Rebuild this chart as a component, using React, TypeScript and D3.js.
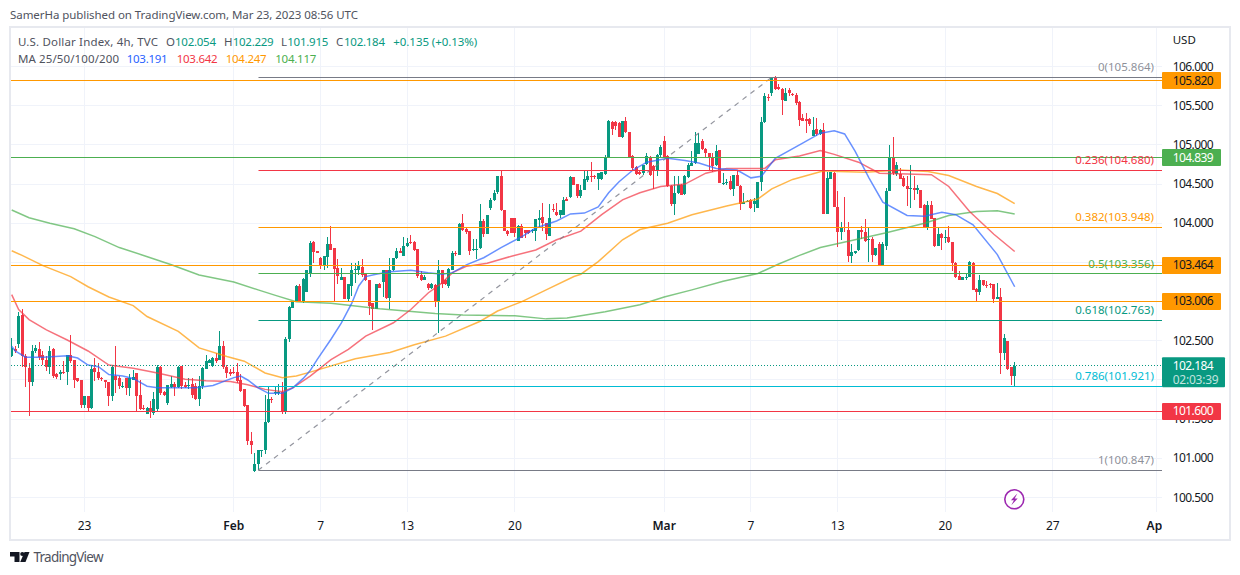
import React from "react";
import * as d3 from "d3";

const opens = [
102.30,102.40,102.46,102.83,102.31,102.15,101.97,102.37,102.39,102.32,
102.26,102.17,102.39,102.07,102.07,102.10,102.10,102.32,102.25,102.02,
102.00,101.68,101.80,101.64,102.15,102.10,102.03,102.00,101.97,101.79,
102.05,102.02,101.91,102.02,101.90,102.00,102.09,101.81,101.64,101.57,
101.64,101.58,101.63,102.16,101.85,101.71,101.91,101.95,101.91,102.18,
101.94,101.92,101.95,101.92,101.76,101.92,102.14,102.22,102.18,102.28,
102.26,102.44,102.17,102.10,102.10,102.10,102.00,101.89,101.68,101.22,
100.84,100.93,101.10,101.10,101.46,101.76,101.83,101.83,101.85,101.59,
102.52,102.92,103.00,103.20,103.00,103.12,103.37,103.76,103.65,103.56,
103.47,103.57,103.73,103.68,103.43,103.27,103.32,103.03,103.20,103.40,
103.41,103.44,103.37,103.27,102.98,102.90,103.23,103.25,103.41,103.05,
103.40,103.56,103.64,103.58,103.71,103.76,103.76,103.67,103.34,103.28,
103.23,103.17,103.21,103.00,103.40,103.28,103.20,103.41,103.62,103.60,
104.00,103.93,103.90,103.66,103.66,103.69,104.03,103.86,104.20,104.30,
104.40,104.60,104.17,103.90,104.07,104.07,103.77,103.97,103.91,103.91,
103.90,103.90,104.04,104.08,104.00,103.84,104.18,104.14,104.10,104.11,
104.31,104.33,104.59,104.50,104.35,104.42,104.55,104.61,104.61,104.56,
104.56,104.63,104.83,105.29,105.29,105.28,105.10,105.30,105.17,104.86,
104.72,104.66,104.64,104.76,104.85,104.73,104.67,104.87,105.05,104.86,
104.47,104.24,104.39,104.49,104.37,104.59,104.73,104.77,104.89,105.05,
104.95,104.90,104.83,104.74,104.93,104.50,104.52,104.54,104.44,104.62,
104.48,104.25,104.28,104.30,104.25,104.20,104.53,105.29,105.61,105.66,
105.87,105.74,105.71,105.56,105.70,105.65,105.64,105.55,105.34,105.33,
105.33,105.12,105.20,105.14,105.19,104.12,104.57,104.64,104.21,103.89,
103.95,103.91,103.58,103.62,103.66,103.92,103.89,103.79,103.80,103.59,
103.74,103.47,103.71,104.41,104.85,104.63,104.63,104.58,104.48,104.44,
104.45,104.42,104.42,104.23,103.95,104.23,104.07,103.71,103.86,103.81,
103.83,103.76,103.49,103.33,103.28,103.31,103.32,103.49,103.16,103.12,
103.27,103.21,103.22,103.22,103.04,103.06,102.34,102.50,102.16,102.05,
];

const highs = [
102.54,102.43,102.87,102.90,102.33,102.22,102.45,102.45,102.49,102.37,
102.31,102.44,102.41,102.09,102.13,102.24,102.32,102.57,102.25,102.03,
102.00,101.80,101.80,102.19,102.28,102.22,102.04,102.00,101.98,102.19,
102.44,102.05,101.98,102.03,102.07,102.13,102.09,102.00,101.68,101.66,
101.73,101.85,102.19,102.18,101.86,101.93,102.05,101.98,102.18,102.18,
101.97,102.03,102.02,101.96,102.05,102.17,102.32,102.27,102.29,102.35,
102.62,102.50,102.19,102.14,102.17,102.22,102.07,101.89,101.68,101.33,
101.07,101.11,101.11,101.81,101.92,101.78,101.92,101.95,101.97,102.55,
102.94,103.00,103.21,103.23,103.30,103.41,103.77,103.77,103.65,103.57,
103.58,103.83,103.97,103.68,103.54,103.43,103.32,103.22,103.49,103.49,
103.52,103.55,103.37,103.27,102.98,103.23,103.24,103.41,103.41,103.56,
103.56,103.69,103.69,103.83,103.81,103.85,103.77,103.67,103.39,103.34,
103.24,103.24,103.22,103.53,103.40,103.29,103.43,103.64,103.64,104.00,
104.12,103.94,103.90,103.80,103.80,104.24,104.05,104.11,104.32,104.43,
104.61,104.68,104.17,103.92,104.07,104.07,103.98,103.99,103.92,103.92,
103.93,104.06,104.17,104.26,104.01,104.25,104.24,104.26,104.17,104.34,
104.34,104.60,104.59,104.50,104.49,104.68,104.68,104.78,104.62,104.64,
104.65,104.87,105.32,105.30,105.30,105.29,105.30,105.36,105.17,104.87,
104.73,104.68,104.75,104.90,104.86,104.75,104.88,105.00,105.11,104.87,
104.49,104.60,104.60,104.50,104.62,104.77,104.92,105.17,105.15,105.07,
104.96,104.90,104.90,105.00,104.94,104.64,104.56,104.61,104.62,104.68,
104.49,104.39,104.30,104.31,104.32,104.53,105.36,105.66,105.65,105.87,
105.88,105.78,105.73,105.73,105.73,105.66,105.66,105.56,105.39,105.41,
105.34,105.36,105.34,105.20,105.28,104.65,104.66,104.65,104.41,104.02,
104.33,104.02,103.73,103.65,103.92,103.97,104.06,103.95,103.83,103.69,
103.76,103.76,104.45,105.00,105.10,104.78,104.71,104.60,104.61,104.75,
104.60,104.49,104.42,104.24,104.29,104.29,104.07,103.95,103.88,103.91,
103.97,103.76,103.50,103.39,103.31,103.37,103.52,103.50,103.17,103.34,
103.28,103.26,103.24,103.23,103.24,103.17,102.59,102.50,102.16,102.23,
];

const lows = [
102.29,102.34,102.41,102.17,101.91,101.54,101.92,102.34,102.26,102.19,
102.12,102.07,102.02,102.01,102.00,102.07,101.94,102.22,101.90,101.98,
101.64,101.64,101.61,101.63,101.99,102.00,101.99,101.90,101.67,101.73,
101.83,101.88,101.90,101.81,101.79,102.00,101.59,101.62,101.62,101.56,
101.51,101.55,101.60,101.81,101.80,101.68,101.90,101.79,101.90,101.88,
101.90,101.88,101.77,101.75,101.67,101.88,102.14,102.22,102.17,102.22,
102.25,102.14,102.02,102.05,102.07,101.96,101.85,101.66,101.17,101.05,
100.83,100.85,101.02,101.05,101.45,101.70,101.81,101.81,101.56,101.56,
102.49,102.92,103.00,103.00,102.98,103.12,103.32,103.49,103.62,103.42,
103.41,103.43,103.66,103.00,103.22,103.27,103.03,103.00,103.07,103.24,
103.34,103.32,103.26,102.83,102.64,102.90,103.18,103.06,103.03,102.91,
103.39,103.54,103.62,103.58,103.70,103.74,103.64,103.30,103.26,103.28,
103.15,103.16,102.93,102.60,103.17,103.21,103.17,103.40,103.58,103.60,
103.90,103.86,103.60,103.65,103.54,103.67,103.83,103.86,104.17,104.28,
104.38,104.16,103.90,103.84,103.87,103.83,103.77,103.81,103.81,103.86,
103.88,103.77,103.94,103.90,103.79,103.84,104.15,104.09,104.07,104.10,
104.28,104.32,104.49,104.32,104.32,104.42,104.53,104.53,104.56,104.43,
104.55,104.62,104.83,105.13,105.19,105.10,105.09,105.15,104.84,104.68,
104.62,104.62,104.62,104.75,104.61,104.44,104.60,104.85,104.83,104.46,
104.22,104.10,104.38,104.36,104.36,104.58,104.73,104.76,104.89,104.94,
104.83,104.68,104.66,104.73,104.51,104.49,104.49,104.43,104.35,104.47,
104.17,104.24,104.27,104.18,104.14,104.19,104.41,105.28,105.56,105.62,
105.70,105.70,105.38,105.56,105.63,105.63,105.51,105.24,105.30,105.15,
105.24,105.11,105.11,105.13,104.12,104.12,104.56,104.21,103.70,103.79,
103.89,103.50,103.49,103.61,103.65,103.80,103.76,103.51,103.51,103.58,
103.45,103.47,103.66,104.41,104.62,104.60,104.56,104.46,104.22,104.20,
104.30,104.37,104.20,103.95,103.91,104.05,103.70,103.71,103.66,103.75,
103.75,103.39,103.30,103.28,103.28,103.28,103.31,103.15,103.01,103.09,
103.20,103.17,103.17,102.98,103.04,102.07,102.26,102.13,101.94,101.92,
];

const closes = [
102.41,102.37,102.82,102.31,102.16,101.97,102.37,102.41,102.29,102.25,
102.17,102.37,102.05,102.04,102.10,102.09,102.32,102.24,102.00,101.99,
101.68,101.80,101.64,102.14,102.10,102.02,102.02,101.97,101.79,102.17,
102.00,101.92,101.92,101.90,102.02,102.04,101.79,101.63,101.63,101.64,
101.59,101.76,102.16,101.84,101.81,101.93,101.95,101.91,102.17,101.92,
101.91,101.94,101.81,101.76,101.92,102.15,102.24,102.25,102.28,102.24,
102.43,102.16,102.09,102.08,102.09,101.99,101.86,101.67,101.22,101.17,
100.93,101.10,101.11,101.46,101.76,101.75,101.85,101.85,101.59,102.52,
102.93,103.00,103.20,103.00,103.29,103.40,103.75,103.63,103.62,103.46,
103.58,103.73,103.66,103.42,103.33,103.32,103.03,103.22,103.41,103.42,
103.47,103.34,103.27,102.95,102.90,103.23,103.18,103.40,103.05,103.41,
103.56,103.64,103.62,103.71,103.75,103.75,103.66,103.33,103.28,103.31,
103.17,103.22,103.00,103.40,103.23,103.23,103.42,103.62,103.61,103.99,
103.91,103.89,103.65,103.67,103.67,104.03,103.86,104.10,104.30,104.39,
104.60,104.17,103.90,103.86,103.88,103.88,103.97,103.81,103.87,103.88,
103.92,104.05,104.07,104.00,103.86,104.07,104.17,104.11,104.17,104.30,
104.29,104.59,104.49,104.35,104.43,104.56,104.61,104.60,104.59,104.64,
104.65,104.84,105.30,105.20,105.24,105.10,105.30,105.16,104.84,104.70,
104.63,104.63,104.75,104.86,104.62,104.68,104.87,104.97,104.85,104.47,
104.24,104.39,104.49,104.36,104.61,104.75,104.77,105.02,105.02,104.95,
104.90,104.83,104.73,104.92,104.52,104.52,104.53,104.44,104.62,104.48,
104.24,104.27,104.29,104.19,104.29,104.53,105.29,105.62,105.60,105.87,
105.71,105.71,105.57,105.66,105.66,105.64,105.53,105.32,105.31,105.31,
105.27,105.19,105.14,105.19,104.12,104.58,104.65,104.21,103.89,103.95,
103.94,103.58,103.63,103.64,103.92,103.89,103.77,103.80,103.59,103.68,
103.47,103.74,104.41,104.85,104.64,104.75,104.57,104.47,104.44,104.45,
104.42,104.45,104.20,103.95,104.23,104.06,103.71,103.86,103.81,103.83,
103.76,103.49,103.32,103.28,103.31,103.32,103.50,103.15,103.12,103.27,
103.21,103.20,103.21,103.04,103.06,102.34,102.54,102.14,102.05,102.18,
];

// moving averages: bar number and value read at that bar
const ma25Bars = [0,1,4,9,16,19,22,25,28,32,35,39,42,49,53,58,64,66,68,71,74,78,81,84,86,88,92,95,98,100,102,105,109,115,120,124,127,131,136,141,147,151,157,161,165,169,172,175,179,183,189,194,198,203,209,213,216,220,227,233,237,240,243,247,251,258,263,268,272,277,284,289];
const ma25Vals = [102.43,102.37,102.29,102.29,102.31,102.28,102.19,102.17,102.07,102.05,102.02,101.92,101.90,101.90,101.90,101.93,102.03,102.05,102.00,101.90,101.83,101.83,101.90,102.02,102.12,102.26,102.52,102.73,102.98,103.20,103.32,103.35,103.38,103.40,103.37,103.35,103.37,103.47,103.56,103.69,103.83,103.94,104.03,104.12,104.13,104.21,104.39,104.53,104.68,104.78,104.83,104.80,104.77,104.70,104.68,104.58,104.60,104.83,105.00,105.15,105.18,105.14,104.92,104.58,104.27,104.10,104.09,104.14,104.11,103.98,103.60,103.19];
const ma50Bars = [0,2,5,10,16,22,28,35,42,50,56,63,68,73,78,81,86,92,97,102,110,115,120,124,127,131,137,144,151,157,164,170,176,181,187,194,200,206,212,217,220,227,233,237,244,250,258,265,270,276,283,289];
const ma50Vals = [103.09,102.90,102.77,102.64,102.51,102.37,102.19,102.15,102.09,102.01,101.99,101.98,101.94,101.88,101.85,101.90,102.05,102.26,102.39,102.56,102.73,102.90,103.11,103.24,103.37,103.45,103.49,103.58,103.66,103.79,103.90,104.11,104.30,104.39,104.47,104.50,104.64,104.70,104.70,104.70,104.81,104.86,104.93,104.88,104.78,104.64,104.63,104.62,104.47,104.15,103.86,103.64];
const ma100Bars = [0,3,9,17,22,28,35,39,48,54,62,67,73,78,82,86,99,109,116,125,135,140,147,154,162,164,169,176,181,189,196,206,215,219,225,234,238,246,256,264,270,278,284,289];
const ma100Vals = [103.65,103.59,103.46,103.32,103.19,103.06,102.95,102.81,102.62,102.41,102.30,102.24,102.09,102.03,102.05,102.10,102.27,102.35,102.45,102.56,102.75,102.88,103.00,103.15,103.32,103.35,103.51,103.79,103.92,104.00,104.11,104.22,104.31,104.44,104.56,104.67,104.66,104.65,104.68,104.66,104.61,104.47,104.38,104.25];
const ma200Bars = [0,5,11,18,24,31,38,46,54,64,71,76,82,92,106,122,130,145,154,160,164,171,181,188,196,205,215,221,227,233,243,252,263,270,278,284,289];
const ma200Vals = [104.17,104.07,104.00,103.93,103.83,103.69,103.59,103.47,103.34,103.25,103.15,103.08,103.00,102.98,102.91,102.85,102.83,102.82,102.78,102.79,102.82,102.87,102.96,103.06,103.15,103.26,103.36,103.48,103.59,103.69,103.79,103.88,104.00,104.10,104.15,104.16,104.12];

const priceTicks = [106, 105.5, 105, 104.5, 104, 103.5, 103, 102.5, 102, 101.5, 101, 100.5];
const hiddenPriceLabels = [103.5, 103, 102];
const timeTickBars = [21, 64, 89, 114, 145, 188, 213, 238, 269, 300, 330];
const timeTickLabels = ["23", "Feb", "7", "13", "20", "Mar", "7", "13", "20", "27", "Apr"];
const monthLabels = ["Feb", "Mar", "Apr"];

const fibLevels = ["0", "0.236", "0.382", "0.5", "0.618", "0.786", "1"];
const fibPrices = [105.864, 104.68, 103.948, 103.356, 102.763, 101.921, 100.847];
const fibColors = ["#787b86", "#f23645", "#ff9800", "#4caf50", "#089981", "#00bcd4", "#787b86"];
const fibStartBar = 71;
const fibEndBar = 219;

const levelPrices = [105.82, 104.839, 103.464, 103.006, 101.6];
const levelColors = ["#ff9800", "#4caf50", "#ff9800", "#ff9800", "#f23645"];
const levelText = ["#131722", "#ffffff", "#131722", "#131722", "#ffffff"];

const lastPrice = 102.184;
const UP = "#089981";
const DOWN = "#f23645";
const FONT = "'Noto Sans', sans-serif";

const W = 1240;
const H = 575;
const LEFT = 11;
const RIGHT = 1162;

const y = d3.scaleLinear().domain([100.5, 106]).range([497.5, 66.6]);
const x = d3.scaleLinear().domain([0, 289]).range([11.7, 1014.7]);
const snap = (v: number) => Math.floor(v) + 0.5;

const maPath = (bars: number[], vals: number[]) =>
  d3
    .line<number>()
    .x((b) => x(b))
    .y((_, i) => y(vals[i]))
    .curve(d3.curveLinear)(bars) as string;

const maSeries = [
  { bars: ma200Bars, vals: ma200Vals, color: "#4caf50" },
  { bars: ma100Bars, vals: ma100Vals, color: "#ff9800" },
  { bars: ma50Bars, vals: ma50Vals, color: "#f23645" },
  { bars: ma25Bars, vals: ma25Vals, color: "#2962ff" },
];

const T = (p: any) => <text fontFamily={FONT} fontSize={12} fill="#131722" {...p} />;

export default function App() {
  return (
    <svg width={W} height={H} style={{ position: "absolute", left: 0, top: 0, background: "#fff" }}>
      <defs>
        <clipPath id="pane">
          <rect x={LEFT} y={28} width={RIGHT - LEFT} height={484} />
        </clipPath>
        <clipPath id="timeaxis">
          <rect x={LEFT} y={512} width={RIGHT - LEFT} height={27} />
        </clipPath>
      </defs>

      <T x={10} y={18.5} fontSize={11.5} fill="#50535e" textLength={348}>
        SamerHa published on TradingView.com, Mar 23, 2023 08:56 UTC
      </T>
      <rect x={10} y={27} width={1220} height={513} fill="none" stroke="#e7e9ef" strokeWidth={2} />

      {/* grid */}
      {priceTicks.map((p) => (
        <line key={p} x1={LEFT} x2={RIGHT} y1={snap(y(p))} y2={snap(y(p))} stroke="#f0f3fa" />
      ))}
      {timeTickBars.map((b) => (
        <line key={b} x1={snap(x(b))} x2={snap(x(b))} y1={28} y2={512} stroke="#f0f3fa" />
      ))}

      {/* candles */}
      <g clipPath="url(#pane)">
        <g shapeRendering="crispEdges">
          {opens.map((o, i) => {
            const c = closes[i];
            const col = c >= o ? UP : DOWN;
            const top = y(Math.max(o, c));
            const bot = y(Math.min(o, c));
            const cx = Math.round(x(i) - 0.5);
            return (
              <g key={i} fill={col}>
                <rect x={cx} y={y(highs[i])} width={1} height={y(lows[i]) - y(highs[i])} />
                <rect x={cx - 1} y={top} width={3} height={Math.max(1, bot - top)} />
              </g>
            );
          })}
        </g>

        {maSeries.map((m) => (
          <path key={m.color} d={maPath(m.bars, m.vals)} fill="none" stroke={m.color} strokeWidth={1.5} strokeOpacity={0.7} />
        ))}

        {/* fib trend line */}
        <line
          x1={x(fibStartBar)}
          x2={x(fibEndBar)}
          y1={y(fibPrices[6])}
          y2={y(fibPrices[0])}
          stroke="#787b86"
          strokeWidth={1.2}
          strokeDasharray="5 5"
          strokeOpacity={0.8}
        />

        {/* last price */}
        <line x1={LEFT} x2={RIGHT} y1={snap(y(lastPrice))} y2={snap(y(lastPrice))} stroke={UP} strokeDasharray="1 2" />

        {/* horizontal levels */}
        {levelPrices.map((p, i) => (
          <line key={p} x1={LEFT} x2={RIGHT} y1={snap(y(p))} y2={snap(y(p))} stroke={levelColors[i]} strokeWidth={1.2} />
        ))}

        {/* fib levels */}
        {fibLevels.map((l, i) => (
          <g key={l}>
            <line x1={snap(x(fibStartBar))} x2={RIGHT} y1={snap(y(fibPrices[i]))} y2={snap(y(fibPrices[i]))} stroke={fibColors[i]} strokeWidth={1.2} />
            <T x={1154} y={y(fibPrices[i]) - 6} textAnchor="end" fontSize={11.5} fill={fibColors[i]} fillOpacity={l === "0" || l === "1" ? 0.85 : 1}>
              {`${l}(${fibPrices[i].toFixed(3)})`}
            </T>
          </g>
        ))}
      </g>

      {/* lightning icon */}
      <g>
        <circle cx={1014.3} cy={499.3} r={9.5} fill="#fff" stroke="#9c27b0" strokeWidth={1.6} />
        <path d="M1017.3 493.6 l-6.4 6.6 h3 l-2.6 5 l6.4 -6.6 h-3 z" fill="#9c27b0" />
      </g>

      {/* header */}
      <T x={18} y={45.5} fontSize={11.5} textLength={140} fill="#50535e">U.S. Dollar Index, 4h, TVC</T>
      <T x={166} y={45.5} fontSize={11.5} fill="#50535e">O</T>
      <T x={175} y={45.5} fontSize={11.5} fill={UP} textLength={41}>102.054</T>
      <T x={224} y={45.5} fontSize={11.5} fill="#50535e">H</T>
      <T x={232.7} y={45.5} fontSize={11.5} fill={UP} textLength={41}>102.229</T>
      <T x={281} y={45.5} fontSize={11.5} fill="#50535e">L</T>
      <T x={287.3} y={45.5} fontSize={11.5} fill={UP} textLength={41}>101.915</T>
      <T x={336} y={45.5} fontSize={11.5} fill="#50535e">C</T>
      <T x={344} y={45.5} fontSize={11.5} fill={UP} textLength={41}>102.184</T>
      <T x={393.3} y={45.5} fontSize={11.5} fill={UP} textLength={84}>+0.135 (+0.13%)</T>
      <T x={18} y={62.5} fontSize={11.5} textLength={101} fill="#50535e">MA 25/50/100/200</T>
      <T x={126.7} y={62.5} fontSize={11.5} fill="#2962ff" textLength={41}>103.191</T>
      <T x={176.7} y={62.5} fontSize={11.5} fill="#f23645" textLength={41}>103.642</T>
      <T x={225.7} y={62.5} fontSize={11.5} fill="#ff9800" textLength={41}>104.247</T>
      <T x={275.3} y={62.5} fontSize={11.5} fill="#4caf50" textLength={41}>104.117</T>

      {/* time axis */}
      <g clipPath="url(#timeaxis)">
        {timeTickBars.map((b, i) => (
          <T
            key={b}
            x={x(b)}
            y={530}
            textAnchor="middle"
            fontSize={12}
            fontWeight={monthLabels.includes(timeTickLabels[i]) ? 600 : 400}
          >
            {timeTickLabels[i]}
          </T>
        ))}
      </g>

      {/* price axis */}
      <T x={1172.7} y={44} fontSize={11.5}>USD</T>
      {priceTicks
        .filter((p) => !hiddenPriceLabels.includes(p))
        .map((p) => (
          <T key={p} x={1172.7} y={y(p) + 4} fontSize={12} textLength={41}>
            {p.toFixed(3)}
          </T>
        ))}
      {levelPrices.map((p, i) => (
        <g key={p}>
          <rect x={1162} y={snap(y(p)) - 8.5} width={59} height={17} rx={1} fill={levelColors[i]} />
          <T x={1172.7} y={y(p) + 4} fontSize={12} fill={levelText[i]} textLength={41}>
            {p.toFixed(3)}
          </T>
        </g>
      ))}
      <rect x={1162} y={357.3} width={63} height={30} rx={1} fill={UP} />
      <T x={1172.7} y={370} fontSize={12} fill="#fff" textLength={41}>
        {lastPrice.toFixed(3)}
      </T>
      <T x={1172.7} y={384} fontSize={12} fill="#fff" fillOpacity={0.75} textLength={46}>
        02:03:39
      </T>

      {/* footer logo */}
      <path d="M10 552 h9.5 v10 h-5 v-5.5 h-4.5 z" fill="#131722" />
      <circle cx={22.3} cy={554} r={2.1} fill="#131722" />
      <path d="M24.5 552 h5 l-4 10 h-5.3 z" fill="#131722" />
      <T x={33.5} y={561.5} fontSize={13.5} fill="#50535e" textLength={70}>TradingView</T>
    </svg>
  );
}
